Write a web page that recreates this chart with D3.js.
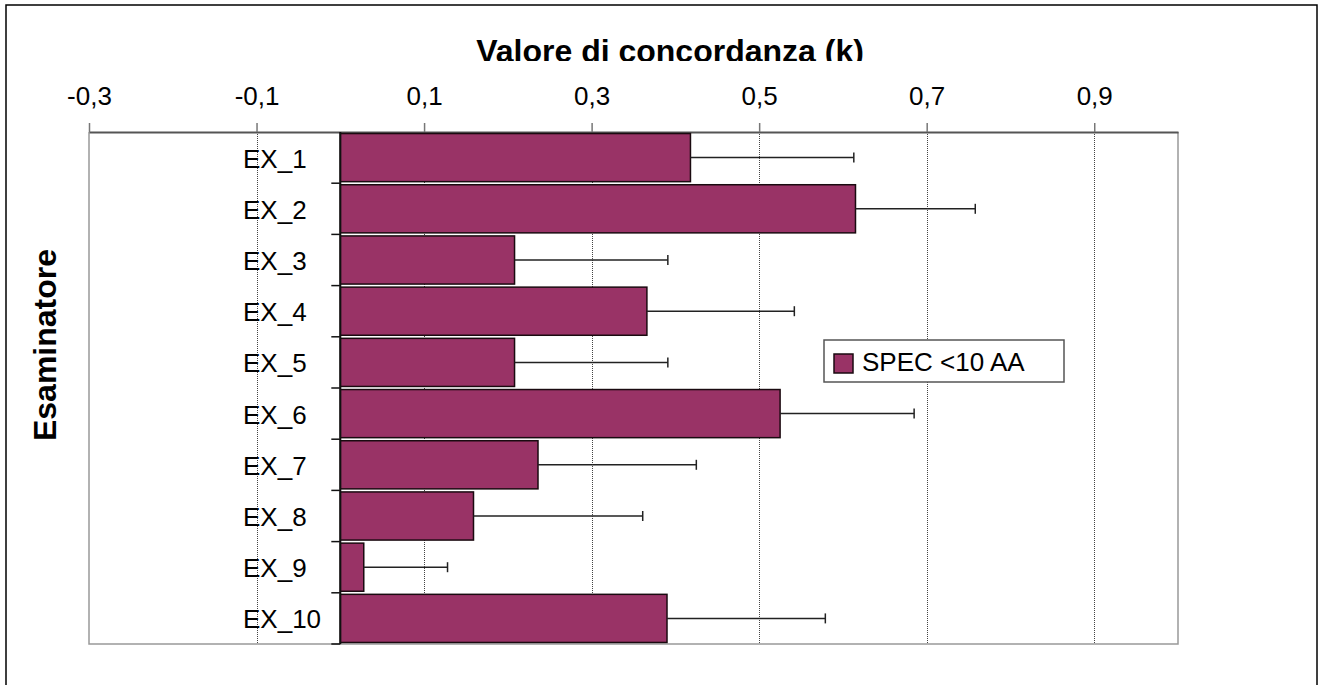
<!DOCTYPE html>
<html>
<head>
<meta charset="utf-8">
<script src="https://cdn.jsdelivr.net/npm/d3@7"></script>
<style>
  body { margin: 0; background: #fff; }
  svg { display: block; font-family: "Liberation Sans", Arial, sans-serif; }
</style>
</head>
<body>
<svg width="1327" height="685"></svg>
<script>
// data
const categories = ["EX_1", "EX_2", "EX_3", "EX_4", "EX_5", "EX_6", "EX_7", "EX_8", "EX_9", "EX_10"];
const kValues = [0.418, 0.615, 0.208, 0.366, 0.208, 0.525, 0.236, 0.159, 0.028, 0.390];
const errPlus = [0.195, 0.143, 0.183, 0.176, 0.183, 0.160, 0.189, 0.202, 0.100, 0.189];
const tickValues = [-0.3, -0.1, 0.1, 0.3, 0.5, 0.7, 0.9];
const seriesName = "SPEC <10 AA";

const svg = d3.select("svg");
const plotLeft = 89, plotRight = 1178, plotTop = 132, plotBottom = 644;

let x = d3.scaleLinear().domain([-0.3, 1.0]).range([plotLeft, plotRight]);
let y = d3.scaleBand().domain(categories).range([plotTop, plotBottom])
  .paddingInner(0.06).paddingOuter(0.03);
let band = d3.scaleBand().domain(categories).range([plotTop, plotBottom]);

// outer frame
svg.append("rect")
  .attr("x", 6).attr("y", 5).attr("width", 1311).attr("height", 720)
  .attr("fill", "none").attr("stroke", "#000").attr("stroke-width", 1.5);

// plot border (left, right, bottom)
svg.append("path")
  .attr("d", `M${plotLeft},${plotTop}V${plotBottom}H${plotRight}V${plotTop}`)
  .attr("fill", "none").attr("stroke", "#999").attr("stroke-width", 1.5);

// dotted gridlines
svg.append("g").selectAll("line")
  .data(tickValues.slice(1))
  .join("line")
  .attr("x1", d => Math.round(x(d)) + 0.5).attr("x2", d => Math.round(x(d)) + 0.5)
  .attr("y1", plotTop).attr("y2", plotBottom)
  .attr("stroke", "#444").attr("stroke-width", 1)
  .attr("stroke-dasharray", "1,1");

// top axis
let xAxis = d3.axisTop(x).tickValues(tickValues)
  .tickSize(9).tickSizeOuter(0).tickPadding(18)
  .tickFormat(d => d3.format(".1f")(d).replace("−", "-").replace(".", ","));

let gx = svg.append("g")
  .attr("transform", `translate(0, ${plotTop})`)
  .call(xAxis);
gx.select(".domain").attr("stroke", "#555").attr("stroke-width", 2);
gx.selectAll(".tick line").attr("stroke", "#777").attr("stroke-width", 1.5);
gx.selectAll(".tick text").attr("fill", "#000").style("font-size", "26px")
  .attr("font-family", "Liberation Sans, Arial, sans-serif");

// bars
svg.append("g").selectAll("rect")
  .data(categories)
  .join("rect")
  .attr("x", x(0))
  .attr("y", d => y(d))
  .attr("width", (d, i) => x(kValues[i]) - x(0))
  .attr("height", y.bandwidth())
  .attr("fill", "#993366")
  .attr("stroke", "#1a0a10").attr("stroke-width", 1.5);

// error bars (plus only)
let eb = svg.append("g").attr("stroke", "#222").attr("stroke-width", 1.5);
eb.selectAll("line.err")
  .data(categories)
  .join("line")
  .attr("class", "err")
  .attr("x1", (d, i) => x(kValues[i]))
  .attr("x2", (d, i) => x(kValues[i] + errPlus[i]))
  .attr("y1", d => y(d) + y.bandwidth() / 2)
  .attr("y2", d => y(d) + y.bandwidth() / 2);
eb.selectAll("line.cap")
  .data(categories)
  .join("line")
  .attr("class", "cap")
  .attr("x1", (d, i) => x(kValues[i] + errPlus[i]))
  .attr("x2", (d, i) => x(kValues[i] + errPlus[i]))
  .attr("y1", d => y(d) + y.bandwidth() / 2 - 5)
  .attr("y2", d => y(d) + y.bandwidth() / 2 + 5);

// category axis at zero
svg.append("line")
  .attr("x1", x(0)).attr("x2", x(0)).attr("y1", plotTop).attr("y2", plotBottom)
  .attr("stroke", "#111").attr("stroke-width", 2);
svg.append("g").selectAll("line")
  .data(categories)
  .join("line")
  .attr("x1", x(0) - 9).attr("x2", x(0))
  .attr("y1", d => band(d) + band.bandwidth())
  .attr("y2", d => band(d) + band.bandwidth())
  .attr("stroke", "#111").attr("stroke-width", 1.5);

// category labels
svg.append("g").selectAll("text")
  .data(categories)
  .join("text")
  .attr("x", 243)
  .attr("y", d => band(d) + band.bandwidth() / 2 + 10)
  .style("font-size", "26px")
  .text(d => d);

// title (clipped at the top of the axis labels, as in the original)
svg.append("clipPath").attr("id", "titleClip")
  .append("rect").attr("x", 0).attr("y", 0).attr("width", 1327).attr("height", 61);
svg.append("text")
  .attr("x", 670).attr("y", 62)
  .attr("text-anchor", "middle")
  .attr("clip-path", "url(#titleClip)")
  .style("font-size", "32px").style("font-weight", "bold")
  .text("Valore di concordanza (k)");

// y title
svg.append("text")
  .attr("transform", "translate(56, 345) rotate(-90)")
  .attr("text-anchor", "middle")
  .style("font-size", "32px").style("font-weight", "bold")
  .text("Esaminatore");

// legend
let lg = svg.append("g").attr("transform", "translate(824, 340)");
lg.append("rect").attr("width", 240).attr("height", 42)
  .attr("fill", "#fff").attr("stroke", "#555").attr("stroke-width", 1.5);
lg.append("rect").attr("x", 10).attr("y", 14).attr("width", 19).attr("height", 19)
  .attr("fill", "#993366").attr("stroke", "#1a0a10").attr("stroke-width", 1.5);
lg.append("text").attr("x", 38).attr("y", 31)
  .style("font-size", "26px").text(seriesName);
</script>
</body>
</html>
